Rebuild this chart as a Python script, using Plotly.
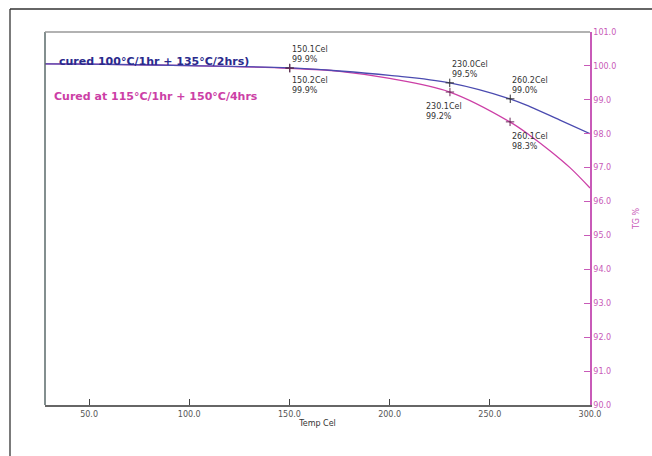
import plotly.graph_objects as go

# TGA curves: weight retained (%) versus temperature (Cel)
temp_a = [28, 50, 100, 150, 175, 200, 230, 260, 270, 285, 300]
tg_a = [100.06, 100.05, 100.01, 99.94, 99.85, 99.72, 99.50, 99.03, 98.80, 98.40, 98.00]

temp_b = [28, 50, 100, 150, 175, 200, 230, 260, 270, 280, 290, 300]
tg_b = [100.06, 100.05, 100.01, 99.93, 99.84, 99.63, 99.23, 98.35, 97.95, 97.50, 97.00, 96.40]

# Marked readings on each curve
mark_a_t = [150.1, 230.0, 260.2]
mark_a_v = [99.94, 99.50, 99.03]
mark_a_lbl = ["99.9%", "99.5%", "99.0%"]
mark_b_t = [150.2, 230.1, 260.1]
mark_b_v = [99.93, 99.23, 98.35]
mark_b_lbl = ["99.9%", "99.2%", "98.3%"]

name_a = "cured 100°C/1hr + 135°C/2hrs)"
name_b = "Cured at 115°C/1hr + 150°C/4hrs"

x_ticks = [50, 100, 150, 200, 250, 300]
y_ticks = [90, 91, 92, 93, 94, 95, 96, 97, 98, 99, 100, 101]

BLUE = "#4b4bb0"
BLUE_TXT = "#2a2a8c"
MAG = "#cc3fa6"
MAG_AX = "#c85ab8"
FONT = "DejaVu Sans"

fig = go.Figure()
fig.add_trace(go.Scatter(x=temp_b, y=tg_b, mode="lines", line=dict(color=MAG, width=1.3, shape="spline"),
                         showlegend=False))
fig.add_trace(go.Scatter(x=temp_a, y=tg_a, mode="lines", line=dict(color=BLUE, width=1.3, shape="spline"),
                         showlegend=False))
fig.add_trace(go.Scatter(x=mark_a_t, y=mark_a_v, mode="markers",
                         marker=dict(symbol="cross-thin", size=6, line=dict(color="#333333", width=1)),
                         showlegend=False))
fig.add_trace(go.Scatter(x=mark_b_t, y=mark_b_v, mode="markers",
                         marker=dict(symbol="cross-thin", size=6, line=dict(color="#6a2a5a", width=1)),
                         showlegend=False))

lbl_font = dict(family=FONT, size=8, color="#333333")
# labels for the upper curve sit above-right of the mark
offs_a = [(0, 2), (0, 2), (0, 2)]
for t, v, s, (dx, dy) in zip(mark_a_t, mark_a_v, mark_a_lbl, offs_a):
    fig.add_annotation(x=t, y=v, text=f"{t:.1f}Cel<br>{s}", showarrow=False, xanchor="left", yanchor="bottom",
                       align="left", xshift=dx, yshift=dy, font=lbl_font)
# labels for the lower curve sit below the mark
offs_b = [(0, -6), (-26, -8), (0, -8)]
for t, v, s, (dx, dy) in zip(mark_b_t, mark_b_v, mark_b_lbl, offs_b):
    fig.add_annotation(x=t, y=v, text=f"{t:.1f}Cel<br>{s}", showarrow=False, xanchor="left", yanchor="top",
                       align="left", xshift=dx, yshift=dy, font=lbl_font)

# curve names
fig.add_annotation(xref="paper", yref="paper", x=(57 - 45) / 545, y=1 - (61 - 32) / 373, text=f"<b>{name_a}</b>",
                   showarrow=False, xanchor="left", yanchor="middle",
                   font=dict(family=FONT, size=11, color=BLUE_TXT))
fig.add_annotation(xref="paper", yref="paper", x=(52 - 45) / 545, y=1 - (96 - 32) / 373, text=f"<b>{name_b}</b>",
                   showarrow=False, xanchor="left", yanchor="middle",
                   font=dict(family=FONT, size=11, color=MAG))

# outer frame and plot-area left/top edges
fig.add_shape(type="line", xref="paper", yref="paper", x0=(10 - 45) / 545, x1=(660 - 45) / 545,
              y0=1 + (32 - 9) / 373, y1=1 + (32 - 9) / 373, line=dict(color="#333333", width=1.3))
fig.add_shape(type="line", xref="paper", yref="paper", x0=(10 - 45) / 545, x1=(10 - 45) / 545,
              y0=1 + (32 - 9) / 373, y1=-(470 - 405) / 373, line=dict(color="#333333", width=1.3))
fig.add_shape(type="line", xref="paper", yref="paper", x0=0, x1=0, y0=0, y1=1,
              line=dict(color="#5a6a6a", width=1.5))
fig.add_shape(type="line", xref="paper", yref="paper", x0=0, x1=1, y0=1, y1=1,
              line=dict(color="#999999", width=1.5))

fig.update_layout(
    width=652, height=456,
    margin=dict(l=45, r=62, t=32, b=51),
    paper_bgcolor="white", plot_bgcolor="white",
    font=dict(family=FONT),
    xaxis=dict(range=[28, 300], tickvals=x_ticks, ticktext=[f"{v:.1f}" for v in x_ticks],
               ticks="inside", ticklen=6, tickcolor="#444444", showgrid=False, zeroline=False,
               showline=True, linecolor="#666666", linewidth=2,
               tickfont=dict(family=FONT, size=8, color="#555555"),
               title=dict(text="Temp Cel", font=dict(family=FONT, size=8, color="#333333"), standoff=2)),
    yaxis=dict(range=[90, 101], side="right", tickvals=y_ticks, ticktext=[f"{v:.1f}" for v in y_ticks],
               ticks="inside", ticklen=6, tickcolor=MAG_AX, showgrid=False, zeroline=False,
               showline=True, linecolor=MAG_AX, linewidth=1.5,
               tickfont=dict(family=FONT, size=8, color=MAG_AX),
               title=dict(text="TG %", font=dict(family=FONT, size=8, color=MAG_AX), standoff=18)),
)

fig.write_html("out.html")
